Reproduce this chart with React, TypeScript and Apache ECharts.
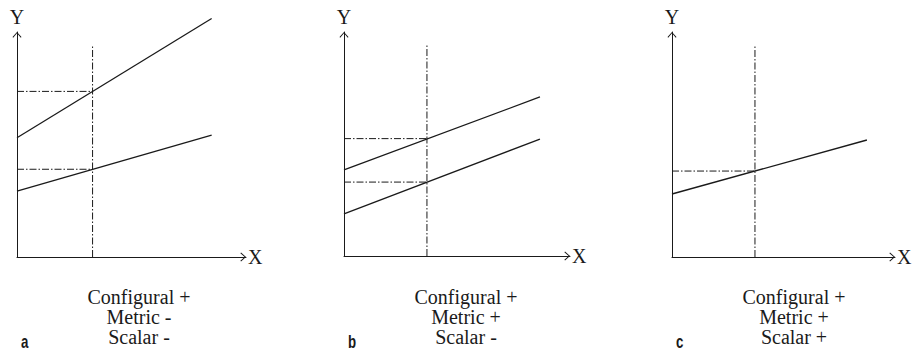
import React, { useEffect, useRef } from "react";
import * as echarts from "echarts";

// Panel letters and captions
const panelLetters = ["a", "b", "c"];
const panelCaptions = [
  ["Configural +", "Metric -", "Scalar -"],
  ["Configural +", "Metric +", "Scalar -"],
  ["Configural +", "Metric +", "Scalar +"],
];

// Solid regression lines per panel ([x, y] on a 0-100 scale)
const panelALines = [
  [[0, 53], [85, 106]],
  [[0, 29.3], [85, 54.2]],
];
const panelBLines = [
  [[0, 38.4], [86.7, 71.0]],
  [[0, 18.8], [86.7, 52.2]],
];
const panelCLines = [
  [[0, 28], [87.4, 52]],
];

// Reference (dash-dot) lines
const cutX = [33, 36.7, 37.2];
const cutTop = [94.2, 94.2, 94.2];
const panelALevels = [73.6, 39.0];
const panelBLevels = [52.4, 33.0];
const panelCLevels = [38.2];

const INK = "#1a1a1a";
const SERIF = "Liberation Serif";
const ARROW = "path://M0,5 L4.5,0 L9,5 L8.3,5.7 L4.5,1.4 L0.7,5.7 Z";

const grids = [
  { left: 17, top: 32, width: 229, height: 225 },
  { left: 344, top: 32, width: 226, height: 224 },
  { left: 672, top: 32, width: 223, height: 225 },
];

export default function App() {
  const ref = useRef<HTMLDivElement>(null);
  useEffect(() => {
    if (!ref.current) return;
    const chart = echarts.init(ref.current, undefined, { renderer: "svg" });
    const allLines = [panelALines, panelBLines, panelCLines];
    const allLevels = [panelALevels, panelBLevels, panelCLevels];

    const axisCommon = (i: number, name: string, isX: boolean) => ({
      gridIndex: i,
      type: "value",
      min: 0,
      max: 100,
      axisLine: {
        show: true,
        onZero: false,
        symbol: ["none", ARROW],
        symbolSize: [9, 5.7],
        symbolOffset: [0, -2.8],
        lineStyle: { color: INK, width: 1 },
      },
      axisTick: { show: false },
      axisLabel: { show: false },
      splitLine: { show: false },
      name,
      nameLocation: "end",
      nameGap: isX ? 2 : 5,
      nameTextStyle: {
        fontFamily: SERIF,
        fontSize: 20,
        color: INK,
      },
    });

    const series: any[] = [];
    for (let i = 0; i < 3; i++) {
      allLines[i].forEach((ln) => {
        series.push({
          type: "line",
          xAxisIndex: i,
          yAxisIndex: i,
          data: ln,
          symbol: "none",
          clip: false,
          silent: true,
          lineStyle: { color: INK, width: 1.3 },
        });
      });
      series.push({
        type: "line",
        xAxisIndex: i,
        yAxisIndex: i,
        data: [[cutX[i], 0], [cutX[i], cutTop[i]]],
        symbol: "none",
        clip: false,
        silent: true,
        lineStyle: { color: INK, width: 1, type: [7, 2, 1.5, 2] },
      });
      allLevels[i].forEach((lv) => {
        series.push({
          type: "line",
          xAxisIndex: i,
          yAxisIndex: i,
          data: [[0, lv], [cutX[i], lv]],
          symbol: "none",
          clip: false,
          silent: true,
          lineStyle: { color: INK, width: 1, type: [7, 2, 1.5, 2] },
        });
      });
    }

    const graphics: any[] = [];
    grids.forEach((g, i) => {
      graphics.push({
        type: "text",
        x: g.left + 122,
        y: 287,
        style: {
          text: panelCaptions[i].join("\n"),
          fontFamily: SERIF,
          fontSize: 20,
          lineHeight: 20,
          textAlign: "center",
          verticalAlign: "top",
          fill: INK,
        },
      });
      graphics.push({
        type: "text",
        x: g.left + 4,
        y: 341,
        scaleX: 0.7,
        style: {
          text: panelLetters[i],
          fontFamily: "Liberation Sans",
          fontWeight: "bold",
          fontSize: 19,
          lineHeight: 15,
          textAlign: "left",
          verticalAlign: "middle",
          fill: INK,
        },
      });
    });

    chart.setOption({
      animation: false,
      backgroundColor: "#ffffff",
      grid: grids,
      xAxis: grids.map((_, i) => axisCommon(i, "X", true)),
      yAxis: grids.map((_, i) => axisCommon(i, "Y", false)),
      series,
      graphic: graphics,
    });
    return () => chart.dispose();
  }, []);
  return (
    <div
      ref={ref}
      style={{ position: "fixed", left: 0, top: 0, width: 916, height: 350 }}
    />
  );
}
